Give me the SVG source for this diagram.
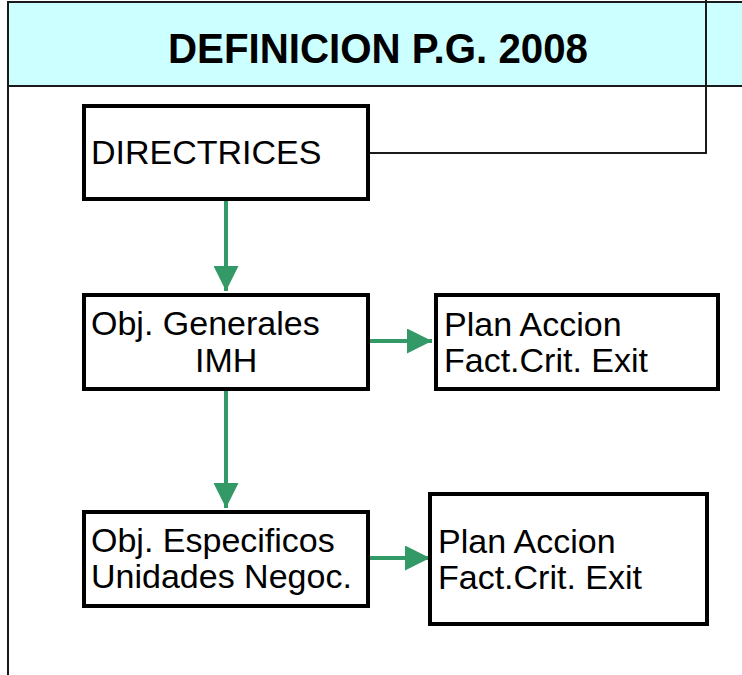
<svg xmlns="http://www.w3.org/2000/svg" width="742" height="675" viewBox="0 0 742 675">
  <defs>
    <style>
      .box { fill: #ffffff; stroke: #000000; stroke-width: 4; }
      .lbl { font-family: "Liberation Sans", Arial, sans-serif; font-size: 34px; fill: #000000; }
      .title { font-family: "Liberation Sans", Arial, sans-serif; font-size: 43px; font-weight: bold; fill: #000000; }
      .arrow { stroke: #339966; stroke-width: 4; fill: none; marker-end: url(#ah); }
      .frame { stroke: #1a1a1a; stroke-width: 2; fill: none; }
    </style>
    <marker id="ah" markerUnits="userSpaceOnUse" markerWidth="25" markerHeight="25" refX="25" refY="12.5" orient="auto">
      <path d="M0,0 L25,12.5 L0,25 Z" fill="#339966"/>
    </marker>
  </defs>
  <rect width="742" height="675" fill="#ffffff"/>

  <g id="header">
    <rect x="8" y="2" width="740" height="84" fill="#ccffff" stroke="#1a1a1a" stroke-width="2"/>
    <line class="frame" x1="8" y1="86" x2="8" y2="675"/>
    <text class="title" x="168" y="63" textLength="420" lengthAdjust="spacingAndGlyphs">DEFINICION P.G. 2008</text>
  </g>

  <g id="connectors">
    <polyline class="frame" points="370,153 706,153 706,0"/>
    <line class="arrow" x1="226" y1="201" x2="226" y2="291"/>
    <line class="arrow" x1="370" y1="341" x2="432" y2="341"/>
    <line class="arrow" x1="226" y1="391" x2="226" y2="508"/>
    <line class="arrow" x1="370" y1="558" x2="430" y2="558"/>
  </g>

  <g id="directrices">
    <rect class="box" x="84" y="106" width="284" height="93"/>
    <text class="lbl" x="91" y="164">DIRECTRICES</text>
  </g>

  <g id="obj-generales">
    <rect class="box" x="84" y="295" width="284" height="94"/>
    <text class="lbl" x="91" y="335">Obj. Generales</text>
    <text class="lbl" x="195" y="372">IMH</text>
  </g>

  <g id="plan-accion-1">
    <rect class="box" x="436" y="295" width="282" height="94"/>
    <text class="lbl" x="444" y="336">Plan Accion</text>
    <text class="lbl" x="444" y="372">Fact.Crit. Exit</text>
  </g>

  <g id="obj-especificos">
    <rect class="box" x="84" y="512" width="284" height="94"/>
    <text class="lbl" x="91" y="552">Obj. Especificos</text>
    <text class="lbl" x="91" y="588">Unidades Negoc.</text>
  </g>

  <g id="plan-accion-2">
    <rect class="box" x="430" y="494" width="277" height="130"/>
    <text class="lbl" x="438" y="553">Plan Accion</text>
    <text class="lbl" x="438" y="589">Fact.Crit. Exit</text>
  </g>
</svg>
